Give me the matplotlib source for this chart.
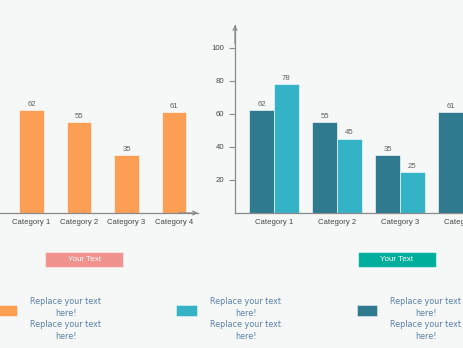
import matplotlib
matplotlib.use('Agg')
import matplotlib.pyplot as plt
from matplotlib.patches import Rectangle
import numpy as np

categories = ['Category 1', 'Category 2', 'Category 3', 'Category 4']
left_values = [62, 55, 35, 61]
dark_values = [62, 55, 35, 61]
light_values = [78, 45, 25, 35]
y_ticks = [20, 40, 60, 80, 100]
button_labels = ['Your Text', 'Your Text']
legend_text = 'Replace your text\nhere!\nReplace your text\nhere!'

BG = '#f6f8f8'
ORANGE = '#fd9e55'
DARK = '#2f7a8e'
CYAN = '#35b3c6'
PINK = '#f0928e'
TEAL = '#00af9b'
AXIS = '#8a8a8a'
LABEL = '#454545'
W, H = 463, 348
FS = 5.6

plt.rcParams['font.family'] = ['Liberation Sans', 'DejaVu Sans']


def px_axes(fig, x0, y0, x1, y1):
    return fig.add_axes([x0 / W, 1 - y1 / H, (x1 - x0) / W, (y1 - y0) / H])


def style_axes(ax):
    ax.set_facecolor('none')
    for side in ['top', 'right']:
        ax.spines[side].set_visible(False)
    for side in ['left', 'bottom']:
        ax.spines[side].set_color(AXIS)
        ax.spines[side].set_linewidth(0.9)
    ax.tick_params(axis='x', length=0, pad=4.5, labelsize=FS, labelcolor=LABEL)
    ax.tick_params(axis='y', length=4, width=0.8, color=AXIS, pad=3.5,
                   labelsize=FS, labelcolor=LABEL)


fig = plt.figure(figsize=(W / 100, H / 100), dpi=100, facecolor=BG)
ymax = 113.6

# left chart (cut off on the left side)
ax1 = px_axes(fig, 0, 25, 198, 213)
style_axes(ax1)
x = np.arange(len(categories))
bars = ax1.bar(x, left_values, width=0.516, color=ORANGE,
               edgecolor=(1, 1, 1, 0.6), linewidth=0.7)
ax1.bar_label(bars, padding=1.5, fontsize=FS, color='#606060')
ax1.set_xlim(-0.663, 3.505)
ax1.set_ylim(0, ymax)
ax1.set_xticks(x, categories)
ax1.set_yticks([])
ax1.spines['left'].set_visible(False)
ax1.annotate('', xy=(1.0, 0), xytext=(0.9, 0), xycoords='axes fraction',
             arrowprops=dict(arrowstyle='->', color=AXIS, lw=0.9,
                             shrinkA=0, shrinkB=0, mutation_scale=7))

# right chart (cut off on the right side)
ax2 = px_axes(fig, 235, 25, 463, 213)
style_axes(ax2)
w = 0.389
b1 = ax2.bar(x - w / 2, dark_values, width=w, color=DARK,
             edgecolor=(1, 1, 1, 0.6), linewidth=0.7)
b2 = ax2.bar(x + w / 2, light_values, width=w, color=CYAN,
             edgecolor=(1, 1, 1, 0.6), linewidth=0.7)
for b in (b1, b2):
    for t in ax2.bar_label(b, padding=1.5, fontsize=FS, color='#606060'):
        t.set_clip_on(True)
ax2.set_xlim(-0.619, 3.0)
ax2.set_ylim(0, ymax)
ax2.set_xticks(x, categories)
ax2.set_yticks(y_ticks)
ax2.annotate('', xy=(0, 1.0), xytext=(0, 0.9), xycoords='axes fraction',
             arrowprops=dict(arrowstyle='->', color=AXIS, lw=0.9,
                             shrinkA=0, shrinkB=0, mutation_scale=7))

# buttons and legend
deco = fig.add_axes([0, 0, 1, 1], zorder=-1)
deco.set_xlim(0, W)
deco.set_ylim(H, 0)
deco.axis('off')

for bx, color, label in [(45, PINK, button_labels[0]), (358, TEAL, button_labels[1])]:
    deco.add_patch(Rectangle((bx, 252), 78, 15, facecolor=color,
                             edgecolor=(1, 1, 1, 0.5), linewidth=0.8))
    deco.text(bx + 39, 259.5, label, color='white', fontsize=5.8,
              ha='center', va='center')

for sx, sw, color, tx in [(-3, 20, ORANGE, 66), (176, 21, CYAN, 246), (357, 20, DARK, 426)]:
    deco.add_patch(Rectangle((sx, 305), sw, 11, facecolor=color,
                             edgecolor=(1, 1, 1, 0.5), linewidth=0.6))
    deco.text(tx, 319, legend_text, color='#5a7fa8', fontsize=5.8,
              family='DejaVu Sans', ha='center', va='center', linespacing=1.38)

fig.savefig('out.png', dpi=100, facecolor=BG)
